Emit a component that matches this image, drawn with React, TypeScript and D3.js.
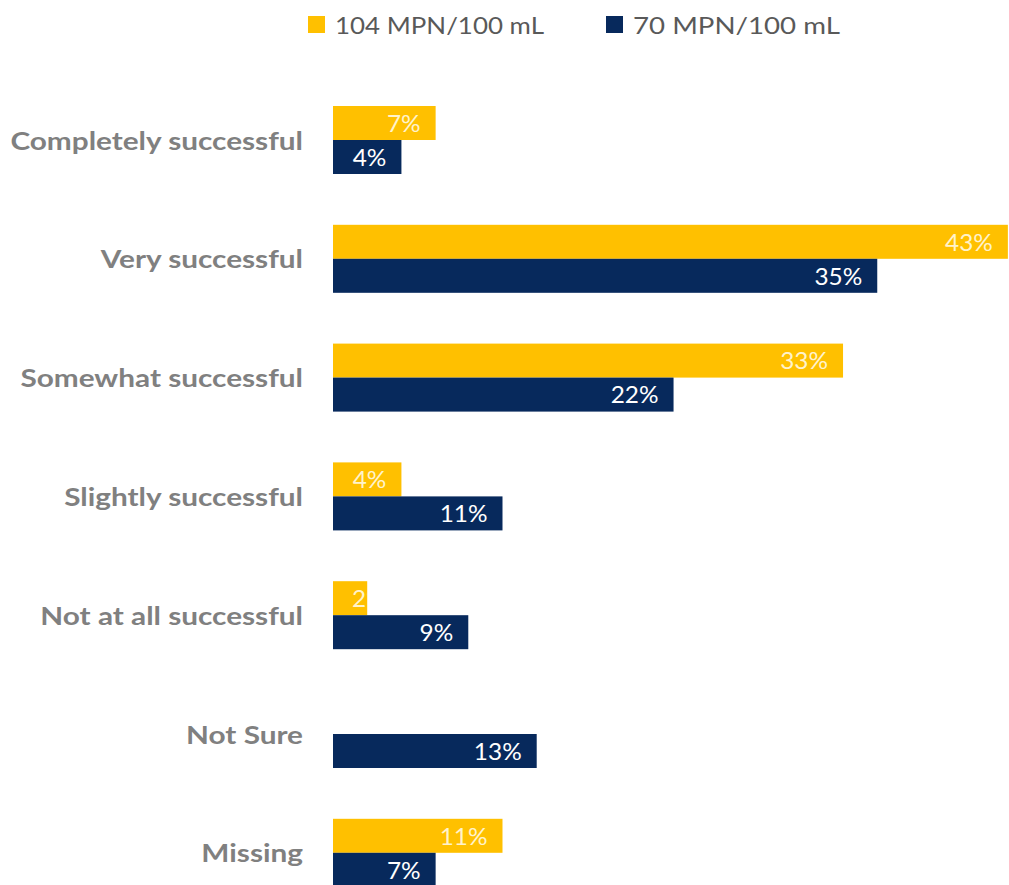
import React, { useEffect, useRef } from "react";
import * as d3 from "d3";

const categories = [
  "Completely successful",
  "Very successful",
  "Somewhat successful",
  "Slightly successful",
  "Not at all successful",
  "Not Sure",
  "Missing",
];
const seriesNames = ["104 MPN/100 mL", "70 MPN/100 mL"];
const series104 = [6.6, 43.4, 32.8, 4.4, 2.2, 0, 10.9];
const series70 = [4.4, 35.0, 21.9, 10.9, 8.7, 13.1, 6.6];
const colors = ["#FFC000", "#07295C"];
const labelColors = ["#FFF3CC", "#FFFFFF"];

export default function App() {
  const ref = useRef<SVGSVGElement | null>(null);

  useEffect(() => {
    const svg = d3.select(ref.current);
    svg.selectAll("*").remove();
    const x0 = 333;
    const x = d3.scaleLinear().domain([0, 43.5]).range([x0, x0 + 43.5 * 15.55]);
    const y = d3
      .scaleBand<string>()
      .domain(categories)
      .range([80.6, 80.6 + 7 * 118.8])
      .paddingInner(0.4276)
      .paddingOuter(0.2138);
    const ySub = d3.scaleBand<string>().domain(seriesNames).range([0, y.bandwidth()]);

    const defs = svg.append("defs");
    const seriesData = [series104, series70];
    const font = "Lato, 'Open Sans', sans-serif";

    // Category labels
    svg
      .append("g")
      .selectAll("g")
      .data(categories)
      .join("g")
      .attr("transform", (d) => `translate(303,${(y(d) as number) + y.bandwidth() / 2}) scale(1.19,1)`)
      .append("text")
      .attr("text-anchor", "end")
      .attr("dominant-baseline", "central")
      .attr("font-family", font)
      .attr("font-weight", 700)
      .attr("font-size", 25)
      .attr("fill", "#808080")
      .text((d) => d);

    seriesNames.forEach((s, si) => {
      const g = svg.append("g");
      categories.forEach((c, ci) => {
        const v = seriesData[si][ci];
        if (v <= 0) return;
        const by = (y(c) as number) + (ySub(s) as number);
        const bh = ySub.bandwidth();
        const bx = x(0);
        const bw = x(v) - x(0);
        g.append("rect")
          .attr("x", bx)
          .attr("y", by)
          .attr("width", bw)
          .attr("height", bh)
          .attr("fill", colors[si]);
        const id = `clip-${si}-${ci}`;
        defs
          .append("clipPath")
          .attr("id", id)
          .append("rect")
          .attr("x", bx)
          .attr("y", by)
          .attr("width", bw)
          .attr("height", bh);
        const sx = 1.06;
        const clipG = g.append("g").attr("clip-path", `url(#${id})`);
        const tg = clipG.append("g");
        const t = tg
          .append("text")
          .attr("dominant-baseline", "central")
          .attr("font-family", font)
          .attr("font-size", 23)
          .attr("fill", labelColors[si])
          .text(d3.format(".0f")(v) + "%");
        const tw = (t.node() as SVGTextElement).getComputedTextLength() * sx;
        const tx = Math.max(bx + 19, bx + bw - 15 - tw);
        tg.attr("transform", `translate(${tx},${by + bh / 2}) scale(${sx},1)`);
      });
    });

    // Legend
    const legend = svg.append("g");
    const items = [
      { x: 308, name: seriesNames[0], color: colors[0], w: 209 },
      { x: 606, name: seriesNames[1], color: colors[1], w: 207 },
    ];
    items.forEach((it) => {
      legend
        .append("rect")
        .attr("x", it.x)
        .attr("y", 16)
        .attr("width", 17)
        .attr("height", 17)
        .attr("fill", it.color);
      const tg = legend.append("g");
      const t = tg
        .append("text")
        .attr("dominant-baseline", "central")
        .attr("font-family", font)
        .attr("font-size", 23)
        .attr("fill", "#595959")
        .text(it.name);
      const tw = (t.node() as SVGTextElement).getComputedTextLength();
      tg.attr("transform", `translate(${it.x + 27},25) scale(${it.w / tw},1)`);
    });
  }, []);

  return (
    <svg
      ref={ref}
      width={1009}
      height={885}
      style={{ position: "absolute", left: 0, top: 0, background: "#fff", display: "block" }}
    />
  );
}
